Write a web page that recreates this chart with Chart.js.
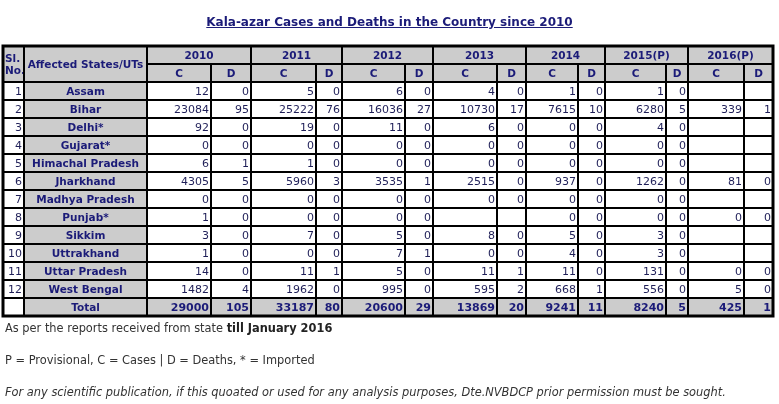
<!DOCTYPE html>
<html>
<head>
<meta charset="utf-8">
<script src="https://cdn.jsdelivr.net/npm/chart.js@4"></script>
<style>
  body { margin: 0; background: #fff; font-family: "DejaVu Sans", Verdana, sans-serif; }
  #wrap { position: relative; width: 779px; height: 404px; }
  #table { position: absolute; left: 0; top: 0; }
  .title { position: absolute; top: 15px; left: 0; width: 779px; text-align: center;
    font: bold 12px "DejaVu Sans"; color: #1b1b78; text-decoration: underline; }
  .note { position: absolute; left: 5px; font: 11.4px "DejaVu Sans"; color: #333; white-space: nowrap; }
  .note b { color: #222; }
</style>
</head>
<body>
<div id="wrap">
  <canvas id="table" width="779" height="404"></canvas>
  <div class="title">Kala-azar Cases and Deaths in the Country since 2010</div>
  <div class="note" style="top:321px">As per the reports received from state <b>till January 2016</b></div>
  <div class="note" style="top:353px">P = Provisional, C = Cases | D = Deaths, * = Imported</div>
  <div class="note" style="top:385px"><i>For any scientific publication, if this quoated or used for any analysis purposes, Dte.NVBDCP prior permission must be sought.</i></div>
</div>
<script>
// table data
const years = ['2010', '2011', '2012', '2013', '2014', '2015(P)', '2016(P)'];
const states = ['Assam', 'Bihar', 'Delhi*', 'Gujarat*', 'Himachal Pradesh', 'Jharkhand',
  'Madhya Pradesh', 'Punjab*', 'Sikkim', 'Uttrakhand', 'Uttar Pradesh', 'West Bengal'];

const cases2010 = [12, 23084, 92, 0, 6, 4305, 0, 1, 3, 1, 14, 1482];
const deaths2010 = [0, 95, 0, 0, 1, 5, 0, 0, 0, 0, 0, 4];
const cases2011 = [5, 25222, 19, 0, 1, 5960, 0, 0, 7, 0, 11, 1962];
const deaths2011 = [0, 76, 0, 0, 0, 3, 0, 0, 0, 0, 1, 0];
const cases2012 = [6, 16036, 11, 0, 0, 3535, 0, 0, 5, 7, 5, 995];
const deaths2012 = [0, 27, 0, 0, 0, 1, 0, 0, 0, 1, 0, 0];
const cases2013 = [4, 10730, 6, 0, 0, 2515, 0, null, 8, 0, 11, 595];
const deaths2013 = [0, 17, 0, 0, 0, 0, 0, null, 0, 0, 1, 2];
const cases2014 = [1, 7615, 0, 0, 0, 937, 0, 0, 5, 4, 11, 668];
const deaths2014 = [0, 10, 0, 0, 0, 0, 0, 0, 0, 0, 0, 1];
const cases2015 = [1, 6280, 4, 0, 0, 1262, 0, 0, 3, 3, 131, 556];
const deaths2015 = [0, 5, 0, 0, 0, 0, 0, 0, 0, 0, 0, 0];
const cases2016 = [null, 339, null, null, null, 81, null, 0, null, null, 0, 5];
const deaths2016 = [null, 1, null, null, null, 0, null, 0, null, null, 0, 0];

const totalCases = [29000, 33187, 20600, 13869, 9241, 8240, 425];
const totalDeaths = [105, 80, 29, 20, 11, 5, 1];

const valueCols = [cases2010, deaths2010, cases2011, deaths2011, cases2012, deaths2012,
  cases2013, deaths2013, cases2014, deaths2014, cases2015, deaths2015, cases2016, deaths2016];
const totalCols = [];
totalCases.forEach((c, i) => { totalCols.push(c, totalDeaths[i]); });

// layout: column widths (Sl, State, then C/D per year)
const colWidths = [21, 123, 64, 40, 65, 26, 63, 28, 64, 29, 52, 27, 61, 22, 56, 29];
const colEdges = [0];
colWidths.forEach(w => colEdges.push(colEdges[colEdges.length - 1] + w));

const rowKeys = ['head1', 'head2'].concat(states.map((s, i) => String(i + 1)), ['Total']);

const GRAY = '#cccccc';
const NAVY = '#1b1b78';
const NUM = '#1f1f58';

// draws the table cells using the chart scales
const tablePlugin = {
  id: 'tableCells',
  afterDraw(chart) {
    const { ctx, scales: { x, y } } = chart;
    const half = Math.abs(y.getPixelForValue(1) - y.getPixelForValue(0)) / 2;
    const left = c => x.getPixelForValue(colEdges[c]);
    const top = r => y.getPixelForValue(r) - half;
    const bottom = r => y.getPixelForValue(r) + half;

    function cell(c0, c1, r0, r1, fill, text, font, color, align) {
      const x0 = left(c0), x1 = left(c1), y0 = top(r0), y1 = bottom(r1);
      ctx.fillStyle = fill;
      ctx.fillRect(x0, y0, x1 - x0, y1 - y0);
      ctx.strokeStyle = '#000';
      ctx.lineWidth = 2;
      ctx.strokeRect(x0, y0, x1 - x0, y1 - y0);
      if (text === null || text === undefined || text === '') return;
      ctx.font = font;
      ctx.fillStyle = color;
      ctx.textBaseline = 'middle';
      const lines = Array.isArray(text) ? text : [String(text)];
      const lh = 12;
      const cy = (y0 + y1) / 2 - (lines.length - 1) * lh / 2 + 1;
      lines.forEach((t, i) => {
        let tx;
        if (align === 'right') { ctx.textAlign = 'right'; tx = x1 - 2; }
        else if (align === 'left') { ctx.textAlign = 'left'; tx = x0 + 2; }
        else { ctx.textAlign = 'center'; tx = (x0 + x1) / 2; }
        ctx.fillText(t, tx, cy + i * lh);
      });
    }

    ctx.save();
    const hfont = 'bold 10.5px "DejaVu Sans"';
    const nfont = '11px "DejaVu Sans"';
    const bfont = 'bold 11px "DejaVu Sans"';

    // header
    cell(0, 1, 0, 1, GRAY, ['Sl.', 'No.'], hfont, NAVY, 'left');
    cell(1, 2, 0, 1, GRAY, 'Affected States/UTs', hfont, NAVY, 'center');
    years.forEach((yr, k) => {
      cell(2 + 2 * k, 4 + 2 * k, 0, 0, GRAY, yr, hfont, NAVY, 'center');
      cell(2 + 2 * k, 3 + 2 * k, 1, 1, GRAY, 'C', hfont, NAVY, 'center');
      cell(3 + 2 * k, 4 + 2 * k, 1, 1, GRAY, 'D', hfont, NAVY, 'center');
    });

    // body
    states.forEach((s, i) => {
      const r = i + 2;
      cell(0, 1, r, r, '#fff', i + 1, nfont, NUM, 'right');
      cell(1, 2, r, r, GRAY, s, hfont, NAVY, 'center');
      valueCols.forEach((arr, j) => {
        cell(2 + j, 3 + j, r, r, '#fff', arr[i], nfont, NUM, 'right');
      });
    });

    // total row
    const tr = rowKeys.length - 1;
    cell(0, 1, tr, tr, '#fff', '', nfont, NUM, 'right');
    cell(1, 2, tr, tr, GRAY, 'Total', hfont, NAVY, 'center');
    totalCols.forEach((v, j) => {
      cell(2 + j, 3 + j, tr, tr, GRAY, v, bfont, NAVY, 'right');
    });

    // outer border
    ctx.lineWidth = 3;
    ctx.strokeRect(left(0), top(0), left(colWidths.length) - left(0), bottom(tr) - top(0));
    ctx.restore();
  }
};

new Chart(document.getElementById('table'), {
  type: 'bar',
  data: { labels: rowKeys, datasets: [{ data: [] }] },
  options: {
    indexAxis: 'y',
    responsive: false,
    animation: false,
    layout: { padding: { left: 3, right: 6, top: 46, bottom: 88 } },
    plugins: { legend: { display: false }, tooltip: { enabled: false } },
    scales: {
      x: { type: 'linear', min: 0, max: colEdges[colEdges.length - 1], display: false },
      y: { type: 'category', offset: true, display: false }
    }
  },
  plugins: [tablePlugin]
});
</script>
</body>
</html>
